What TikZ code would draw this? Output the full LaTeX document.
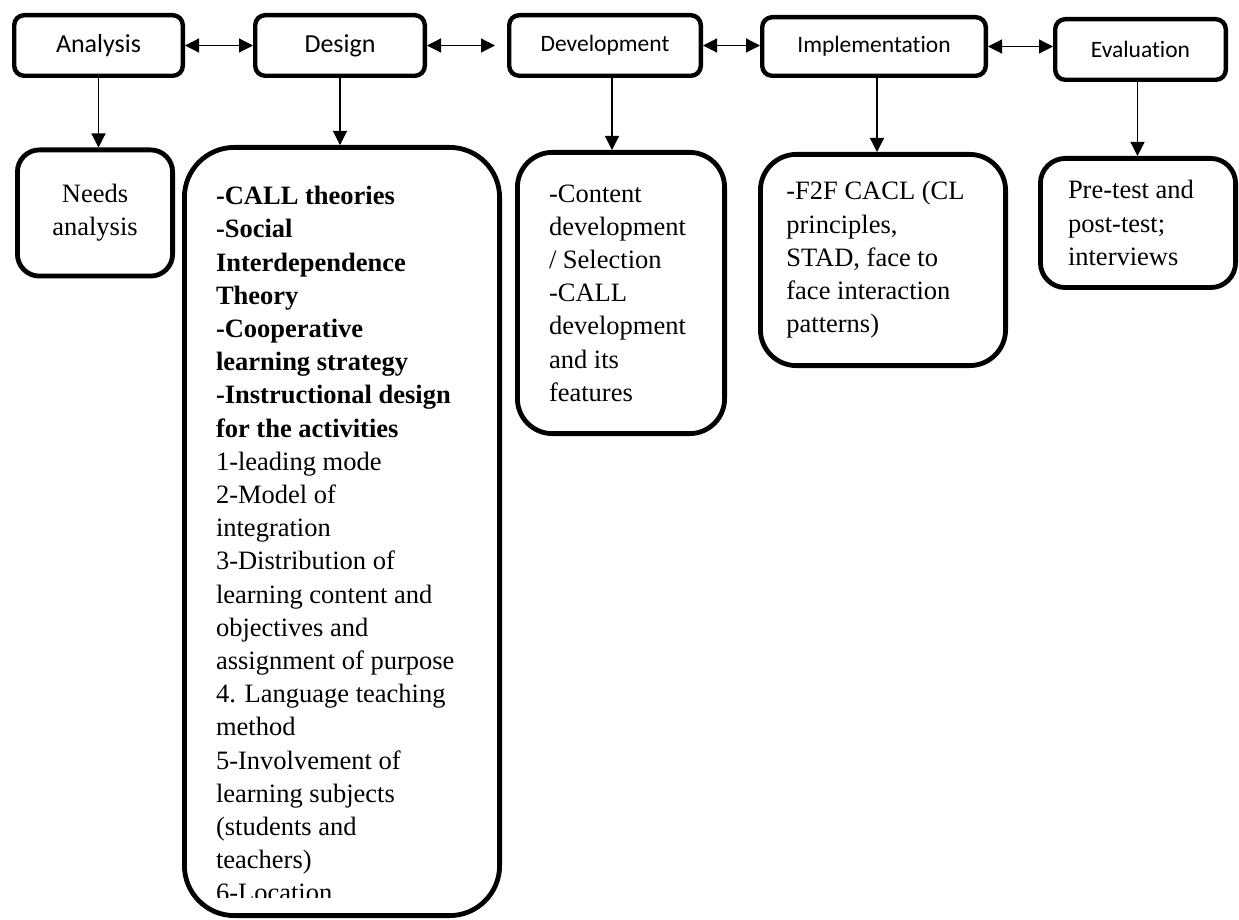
\documentclass[tikz,border=0pt]{standalone}
\usepackage{fontspec}
\setmainfont{Liberation Serif}
\newfontfamily\lblfont[Ligatures={NoCommon,NoContextual}]{Carlito}
\usetikzlibrary{arrows.meta}

\begin{document}
\begin{tikzpicture}[x=0.5pt, y=-0.5pt,
		stage/.style={rectangle, draw, line width=2.2pt, rounded corners=5pt, minimum height=30.3pt, inner sep=0pt, font=\lblfont\fontsize{11.75}{14}\selectfont},
		detail/.style={rectangle, draw, line width=2.4pt, align=flush left, font=\fontsize{13.25}{16.6}\selectfont},
		arr/.style={line width=0.6pt, -{Triangle[length=7pt, width=7pt]}},
		darr/.style={line width=0.6pt, {Triangle[length=7pt, width=7pt]}-{Triangle[length=7pt, width=7pt]}}]
	\useasboundingbox (0,0) rectangle (1239,920);

	\node[stage, minimum width=84.3pt, font=\lblfont\fontsize{13}{15}\selectfont] (ana) at (98.5,45.5) {Analysis};
	\node[stage, minimum width=84.8pt, font=\lblfont\fontsize{13}{15}\selectfont] (des) at (340,45.5) {Design};
	\node[stage, minimum width=95.8pt] (dev) at (605,45.5) {Development};
	\node[stage, minimum width=111.8pt, minimum height=29.3pt] (imp) at (874,46.5) {Implementation};
	\node[stage, minimum width=85.3pt] (eva) at (1140.5,49.5) {Evaluation};

	\draw[darr] (ana.east) -- (ana.east -| des.west);
	\draw[darr, shorten >=6pt] (des.east) -- (des.east -| dev.west);
	\draw[darr] (dev.east) -- (dev.east -| imp.west);
	\draw[darr] (imp.east) -- (imp.east -| eva.west);

	\node[detail, align=center, rounded corners=11pt, minimum width=77.6pt, minimum height=63.1pt] (needs) at (95,213) {Needs\\analysis};
	\node[detail, rounded corners=25pt, minimum width=157.6pt, minimum height=384.1pt] (desd) at (342,531.5) {};
	\begin{scope}
		\clip (desd.north west) rectangle ([yshift=10.3pt]desd.south east);
		\node[anchor=north west, inner sep=0pt, text width=124pt, align=flush left, font=\fontsize{13.25}{16.6}\selectfont] (destxt) at ([xshift=16.8pt, yshift=-20.5pt]desd.north west) {\textbf{-CALL theories}\\
			\textbf{-Social}\\
			\textbf{Interdependence}\\
			\textbf{Theory}\\
			\textbf{-Cooperative}\\
			\textbf{learning strategy}\\
			\textbf{-Instructional design}\\
			\textbf{for the activities}\\
			1-leading mode\\
			2-Model of\\
			integration\\
			3-Distribution of\\
			learning content and\\
			objectives and\\
			assignment of purpose\\
			4. Language teaching\\
			method\\
			5-Involvement of\\
			learning subjects\\
			(students and\\
			teachers)\\
			6-Location};
	\end{scope}
	\node[detail, rounded corners=17.5pt, minimum width=103.6pt, minimum height=140.6pt, inner xsep=15.8pt, text width=72pt] (devd) at (621,293) {-Content\\development\\/ Selection\\-CALL\\development\\and its\\features};
	\node[detail, rounded corners=18pt, minimum width=122.6pt, minimum height=105.6pt, inner xsep=13pt, text width=96.6pt] (impd) at (883,260) {-F2F CACL (CL\\principles,\\STAD, face to\\face interaction\\patterns)};
	\node[detail, rounded corners=12.5pt, minimum width=97.6pt, minimum height=64.6pt, inner xsep=13.8pt, text width=70pt] (evad) at (1138,223) {Pre-test and\\post-test;\\interviews};

	\draw[arr] (ana.south) -- (ana.south |- needs.north);
	\draw[arr] (des.south) -- (des.south |- desd.north);
	\draw[arr] ([xshift=3.5pt]dev.south) -- ([xshift=3.5pt]dev.south |- devd.north);
	\draw[arr] ([xshift=1.5pt]imp.south) -- ([xshift=1.5pt]imp.south |- impd.north);
	\draw[arr] ([xshift=-1.5pt]eva.south) -- ([xshift=-1.5pt]eva.south |- evad.north);
\end{tikzpicture}
\end{document}
